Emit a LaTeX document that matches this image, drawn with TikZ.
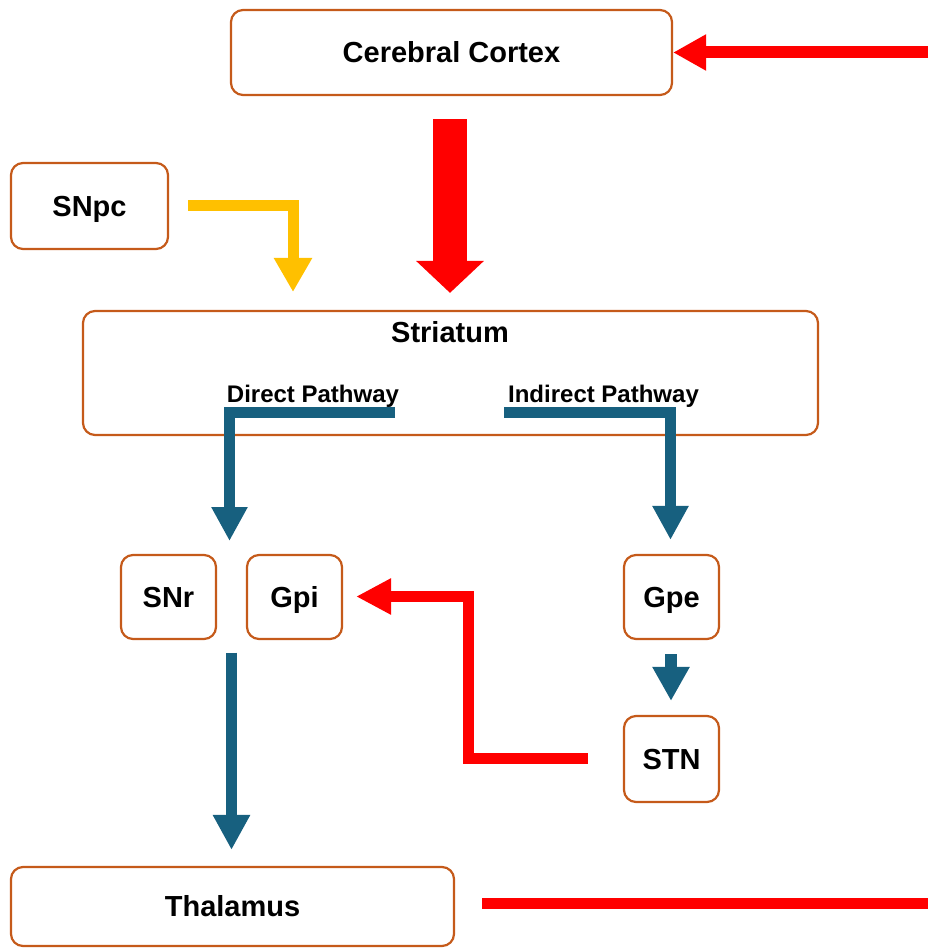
\documentclass[tikz,border=0pt]{standalone}
\usepackage{fontspec}
\setmainfont{Liberation Sans}
\usetikzlibrary{arrows.meta,calc}
\definecolor{boxorange}{HTML}{C55A1A}
\definecolor{pathblue}{HTML}{17607F}
\definecolor{arrred}{HTML}{FF0000}
\definecolor{arryellow}{HTML}{FFC000}
\begin{document}
\begin{tikzpicture}[x=1pt,y=-1pt,
  box/.style={draw=boxorange, line width=2.2pt, rounded corners=12pt, inner sep=0pt,
    font=\fontsize{29}{34}\selectfont\bfseries, text height=20.8pt, text depth=0pt},
  lbl/.style={inner sep=0pt, font=\fontsize{29}{34}\selectfont\bfseries, text height=20.8pt, text depth=0pt},
  small/.style={inner sep=0pt, font=\fontsize{24}{28}\selectfont\bfseries, anchor=base},
  flow/.style={line cap=butt, line join=miter, miter limit=10},
]
\useasboundingbox (0,0) rectangle (928,949);
% boxes
\node[box, minimum width=441pt, minimum height=85pt] (cortex) at (451.5,52.5) {Cerebral Cortex};
\node[box, minimum width=157pt, minimum height=86pt] (snpc) at (89.5,206) {SNpc};
\node[box, minimum width=735pt, minimum height=124pt] (striatum) at (450.5,373) {};
\node[lbl] (strlbl) at (450,332) {Striatum};
\node[small] (dlbl) at (313,402.5) {Direct Pathway};
\node[small] (ilbl) at (603.5,402.5) {Indirect Pathway};
\node[box, minimum width=95pt, minimum height=84pt] (snr) at (168.5,597) {SNr};
\node[box, minimum width=95pt, minimum height=84pt] (gpi) at (294.5,597) {Gpi};
\node[box, minimum width=95pt, minimum height=84pt] (gpe) at (671.5,597) {Gpe};
\node[box, minimum width=95pt, minimum height=86pt] (stn) at (671.5,759) {STN};
\node[box, minimum width=443pt, minimum height=79pt] (thalamus) at (232.5,906.5) {Thalamus};
% free ends
\coordinate (rin) at (928,52.5);
\coordinate (snpctip) at (293,292);
\coordinate (dstart) at (395,412.5);
\coordinate (dtip) at (229.5,541);
\coordinate (istart) at (504,412.5);
\coordinate (stnbend) at (468.5,758.5);
\coordinate (dtop) at (231.5,652.7);
\coordinate (rout) at (928,903.5);
% connectors
\draw[flow, arrred, line width=12pt, -{Triangle[length=33pt,width=34pt]}] (rin) -- (cortex.east);
\draw[flow, arrred, line width=34pt, -{Triangle[length=32pt,width=66pt]}]
  ($(cortex.south)+(-1.5,23)$) -- ($(striatum.north)+(-0.5,-17)$);
\draw[flow, arryellow, line width=11pt, -{Triangle[length=34pt,width=36pt]}]
  ($(snpc.east)+(19,-0.5)$) -| (snpctip);
\draw[flow, pathblue, line width=11.5pt, -{Triangle[length=34pt,width=34pt]}] (dstart) -| (dtip);
\draw[flow, pathblue, line width=11.5pt, -{Triangle[length=34pt,width=34pt]}]
  (istart) -| ($(gpe.north)+(-1,-14)$);
\draw[flow, pathblue, line width=12pt, -{Triangle[length=34pt,width=35pt]}]
  ($(gpe.south)+(-0.5,14)$) -- ($(stn.north)+(-0.5,-14)$);
\draw[flow, arrred, line width=11.5pt, -{Triangle[length=35pt,width=34pt]}]
  ($(stn.west)+(-35,-0.5)$) -- (stnbend) |- ($(gpi.east)+(13,-0.5)$);
\draw[flow, pathblue, line width=11.6pt, -{Triangle[length=35pt,width=35pt]}]
  (dtop) -- ($(thalamus.north)+(-1,-16)$);
\draw[flow, arrred, line width=11pt] ($(thalamus.east)+(27,-3)$) -- (rout);
\end{tikzpicture}
\end{document}
